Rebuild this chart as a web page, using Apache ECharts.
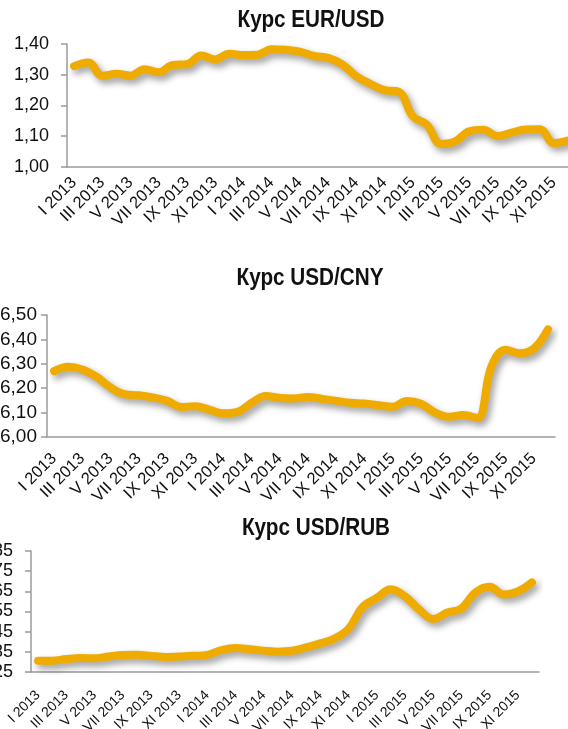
<!DOCTYPE html>
<html>
<head>
<meta charset="utf-8">
<title>Курсы валют</title>
<script src="https://cdn.jsdelivr.net/npm/echarts@6/dist/echarts.min.js"></script>
<style>
    html, body { margin: 0; padding: 0; background: #fff; }
    #chart { width: 568px; height: 729px; }
</style>
</head>
<body>
<div id="chart"></div>
<script>
// months I..XII for 2013-2015
const months = ['I', 'II', 'III', 'IV', 'V', 'VI', 'VII', 'VIII', 'IX', 'X', 'XI', 'XII']
const years = [2013, 2014, 2015]
const categories = []
years.forEach(y => months.forEach(m => categories.push(m + ' ' + y)))

const titles = ['Курс EUR/USD', 'Курс USD/CNY', 'Курс USD/RUB']

const eurUsd = [
    1.328, 1.340, 1.297, 1.303, 1.297, 1.318, 1.308, 1.332, 1.334, 1.363, 1.350, 1.368,
    1.364, 1.365, 1.383, 1.381, 1.375, 1.361, 1.355, 1.334, 1.295, 1.270, 1.250, 1.245,
    1.165, 1.138, 1.075, 1.083, 1.116, 1.121, 1.101, 1.112, 1.122, 1.123, 1.078, 1.086
]
const usdCny = [
    6.270, 6.288, 6.277, 6.247, 6.203, 6.175, 6.171, 6.162, 6.148, 6.123, 6.126, 6.112,
    6.097, 6.103, 6.140, 6.168, 6.160, 6.158, 6.164, 6.156, 6.148, 6.140, 6.137, 6.130,
    6.124, 6.148, 6.136, 6.100, 6.083, 6.090, 6.078, 6.290, 6.358, 6.343, 6.362, 6.441
]
const usdRub = [
    30.6, 30.6, 31.4, 31.9, 31.8, 32.7, 33.4, 33.5, 33.0, 32.5, 32.7, 33.0,
    33.5, 35.9, 36.9, 36.3, 35.6, 35.1, 35.5, 37.2, 39.2, 41.6, 46.4, 57.2,
    61.7, 66.0, 62.5, 56.0, 51.3, 54.5, 56.5, 64.5, 67.3, 63.4, 64.9, 69.4
]

const yTicks = [
    { min: 1.0, max: 1.4, interval: 0.1, digits: 2 },
    { min: 6.0, max: 6.5, interval: 0.1, digits: 2 },
    { min: 25, max: 85, interval: 10, digits: 0 }
]

const lineColor = '#F0AB00'
const axisColor = '#9B9B9B'
const font = "'Liberation Sans', Arial, sans-serif"

// plot areas (chart 1 runs past the right edge, as in the original crop)
const grids = [
    { left: 67, top: 44, width: 508, height: 123 },
    { left: 47, top: 315, width: 508, height: 122 },
    { left: 31, top: 551, width: 508, height: 121 }
]
const titlePos = [[311, 9], [310, 267], [316, 517]]
const xLabel = [{ size: 16.5, margin: 13 }, { size: 16.5, margin: 19 }, { size: 14, margin: 21 }]
const yLabel = [{ size: 18, margin: 18 }, { size: 19, margin: 10 }, { size: 18, margin: 18 }]

const chart = echarts.init(document.getElementById('chart'))

const option = {
    animation: false,
    backgroundColor: '#fff',
    graphic: titles.map((t, i) => ({
        type: 'text',
        x: titlePos[i][0],
        y: titlePos[i][1],
        scaleX: 0.9,
        style: {
            text: t,
            align: 'center',
            verticalAlign: 'top',
            fill: '#111',
            font: 'bold 23px ' + font
        }
    })),
    grid: grids.map(g => Object.assign({ containLabel: false, outerBoundsMode: 'none' }, g)),
    xAxis: grids.map((g, i) => ({
        type: 'category',
        gridIndex: i,
        data: categories,
        boundaryGap: true,
        axisLine: { lineStyle: { color: axisColor, width: 1.5 } },
        axisTick: { interval: 1, length: 6, lineStyle: { color: axisColor, width: 1.5 } },
        axisLabel: {
            interval: 1,
            rotate: 45,
            margin: xLabel[i].margin,
            fontSize: xLabel[i].size,
            fontFamily: font,
            color: '#111'
        },
        splitLine: { show: false }
    })),
    yAxis: yTicks.map((t, i) => ({
        type: 'value',
        gridIndex: i,
        min: t.min,
        max: t.max,
        interval: t.interval,
        axisLine: { show: true, lineStyle: { color: axisColor, width: 1.5 } },
        axisTick: { show: true, length: 6, lineStyle: { color: axisColor, width: 1.5 } },
        axisLabel: {
            margin: yLabel[i].margin,
            fontSize: yLabel[i].size,
            fontFamily: font,
            color: '#111',
            formatter: v => v.toFixed(t.digits).replace('.', ',')
        },
        splitLine: { show: false }
    })),
    series: [eurUsd, usdCny, usdRub].map((d, i) => ({
        type: 'line',
        xAxisIndex: i,
        yAxisIndex: i,
        data: d,
        smooth: 0.4,
        symbol: 'none',
        lineStyle: {
            color: lineColor,
            width: 8,
            cap: 'round',
            shadowColor: 'rgba(0, 0, 0, 0.4)',
            shadowBlur: 7,
            shadowOffsetX: 3,
            shadowOffsetY: 4
        }
    }))
}

chart.setOption(option)
</script>
</body>
</html>
